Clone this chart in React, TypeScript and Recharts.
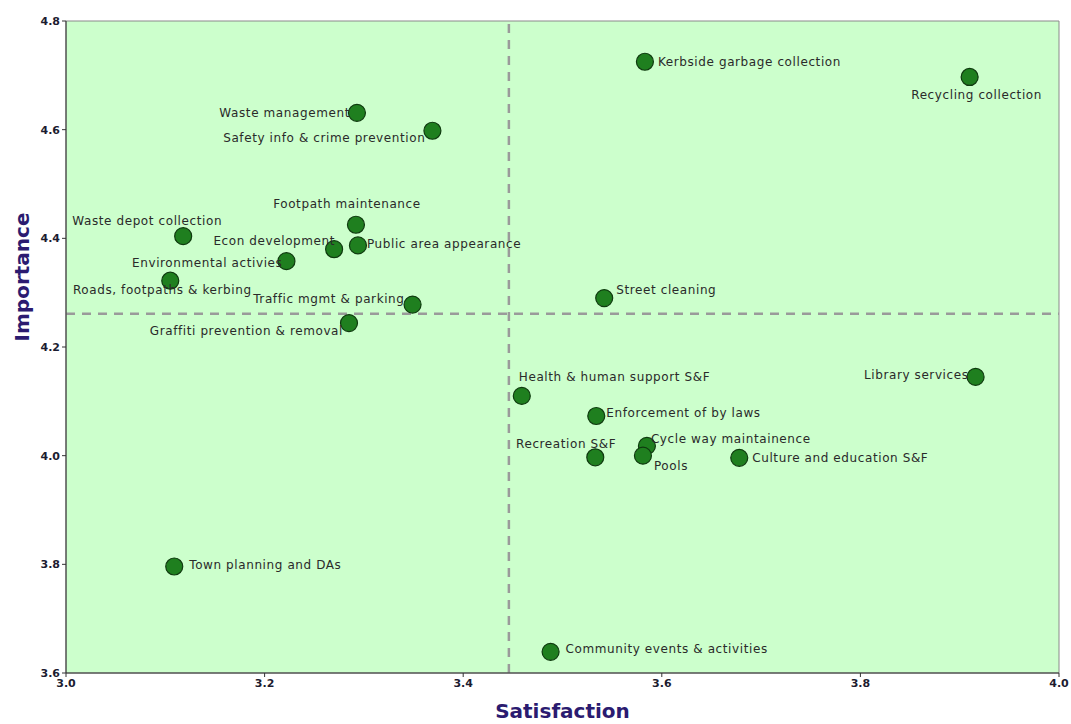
import React from 'react';
import {
  ScatterChart,
  Scatter,
  XAxis,
  YAxis,
  ReferenceLine,
  ReferenceArea,
  Label
} from 'recharts';

// Services: satisfaction (x) vs importance (y)
const services = [
  'Kerbside garbage collection',
  'Recycling collection',
  'Waste management',
  'Safety info & crime prevention',
  'Footpath maintenance',
  'Waste depot collection',
  'Econ development',
  'Public area appearance',
  'Environmental activies',
  'Roads, footpaths & kerbing',
  'Traffic mgmt & parking',
  'Graffiti prevention & removal',
  'Street cleaning',
  'Health & human support S&F',
  'Library services',
  'Enforcement of by laws',
  'Recreation S&F',
  'Cycle way maintainence',
  'Pools',
  'Culture and education S&F',
  'Town planning and DAs',
  'Community events & activities'
];

const satisfaction = [
  3.583, 3.91, 3.293, 3.369, 3.292, 3.118, 3.27, 3.294, 3.222, 3.105, 3.349,
  3.285, 3.542, 3.459, 3.916, 3.534, 3.533, 3.585, 3.581, 3.678, 3.109, 3.488
];

const importance = [
  4.725, 4.697, 4.631, 4.598, 4.425, 4.404, 4.38, 4.387, 4.358, 4.322, 4.278,
  4.244, 4.29, 4.11, 4.145, 4.073, 3.997, 4.018, 4.0, 3.996, 3.796, 3.639
];

const avgSatisfaction = 3.446;
const avgImportance = 4.261;

const xTicks = [3.0, 3.2, 3.4, 3.6, 3.8, 4.0];
const yTicks = [3.6, 3.8, 4.0, 4.2, 4.4, 4.6, 4.8];

const data = services.map((name, i) => ({
  name,
  x: satisfaction[i],
  y: importance[i]
}));

// where each label sits relative to its marker
type Placement = { dx: number; dy: number; anchor: 'start' | 'middle' | 'end' };
const placement: Record<string, Placement> = {
  'Kerbside garbage collection': { dx: 13, dy: 0, anchor: 'start' },
  'Recycling collection': { dx: 7, dy: 18, anchor: 'middle' },
  'Waste management': { dx: -7, dy: 0, anchor: 'end' },
  'Safety info & crime prevention': { dx: -7, dy: 7, anchor: 'end' },
  'Footpath maintenance': { dx: -9, dy: -21, anchor: 'middle' },
  'Waste depot collection': { dx: -36, dy: -15, anchor: 'middle' },
  'Econ development': { dx: 1, dy: -8, anchor: 'end' },
  'Public area appearance': { dx: 9, dy: -1, anchor: 'start' },
  'Environmental activies': { dx: -4, dy: 2, anchor: 'end' },
  'Roads, footpaths & kerbing': { dx: -8, dy: 9, anchor: 'middle' },
  'Traffic mgmt & parking': { dx: -8, dy: -6, anchor: 'end' },
  'Graffiti prevention & removal': { dx: -6, dy: 8, anchor: 'end' },
  'Street cleaning': { dx: 12, dy: -8, anchor: 'start' },
  'Health & human support S&F': { dx: -3, dy: -19, anchor: 'start' },
  'Library services': { dx: -7, dy: -2, anchor: 'end' },
  'Enforcement of by laws': { dx: 10, dy: -3, anchor: 'start' },
  'Recreation S&F': { dx: 21, dy: -13, anchor: 'end' },
  'Cycle way maintainence': { dx: 4, dy: -7, anchor: 'start' },
  'Pools': { dx: 11, dy: 10, anchor: 'start' },
  'Culture and education S&F': { dx: 13, dy: 0, anchor: 'start' },
  'Town planning and DAs': { dx: 15, dy: -2, anchor: 'start' },
  'Community events & activities': { dx: 15, dy: -3, anchor: 'start' }
};

const labelFont = '"DejaVu Sans", sans-serif';
const tickStyle = { fill: '#1c1c30', fontSize: 11, fontWeight: 700, fontFamily: labelFont };

const Marker = (props: any) => {
  const { cx, cy, payload } = props;
  const p = placement[payload.name] || { dx: 12, dy: 0, anchor: 'start' };
  return (
    <g>
      <circle cx={cx} cy={cy} r={8.5} fill="#1f7f1f" stroke="#0f3a0f" strokeWidth={1.2} />
      <text
        x={cx + p.dx}
        y={cy + p.dy}
        textAnchor={p.anchor}
        dominantBaseline="central"
        fontSize={12}
        letterSpacing={0.6}
        fontFamily={labelFont}
        fill="#2a2a2a"
      >
        {payload.name}
      </text>
    </g>
  );
};

export default function App() {
  return (
    <div style={{ position: 'absolute', left: 0, top: 0, background: '#fff' }}>
      <ScatterChart width={1071} height={724} margin={{ top: 21, right: 12, bottom: 21, left: 0 }}>
        <ReferenceArea
          x1={3.0}
          x2={4.0}
          y1={3.6}
          y2={4.8}
          fill="#ccffcc"
          fillOpacity={1}
          stroke="#8a8a8a"
          strokeWidth={1}
        />
        <XAxis
          type="number"
          dataKey="x"
          domain={[3.0, 4.0]}
          ticks={xTicks}
          tickFormatter={(v: number) => v.toFixed(1)}
          tick={tickStyle}
          tickSize={4}
          height={30}
          stroke="#333"
          allowDataOverflow
        >
          <Label
            value="Satisfaction"
            position="bottom"
            offset={1}
            style={{ fill: '#2b1b70', fontSize: 20, fontWeight: 700, fontFamily: labelFont }}
          />
        </XAxis>
        <YAxis
          type="number"
          dataKey="y"
          domain={[3.6, 4.8]}
          ticks={yTicks}
          tickFormatter={(v: number) => v.toFixed(1)}
          tick={tickStyle}
          tickSize={4}
          width={66}
          stroke="#333"
          allowDataOverflow
        >
          <Label
            value="Importance"
            angle={-90}
            position="insideLeft"
            offset={22}
            dy={-70}
            style={{ fill: '#2b1b70', fontSize: 20, fontWeight: 700, fontFamily: labelFont, textAnchor: 'middle' }}
          />
        </YAxis>
        <ReferenceLine x={avgSatisfaction} stroke="#9a9a9a" strokeWidth={2.5} strokeDasharray="9 7" />
        <ReferenceLine y={avgImportance} stroke="#9a9a9a" strokeWidth={2.5} strokeDasharray="9 7" />
        <Scatter data={data} shape={Marker} isAnimationActive={false} />
      </ScatterChart>
    </div>
  );
}
